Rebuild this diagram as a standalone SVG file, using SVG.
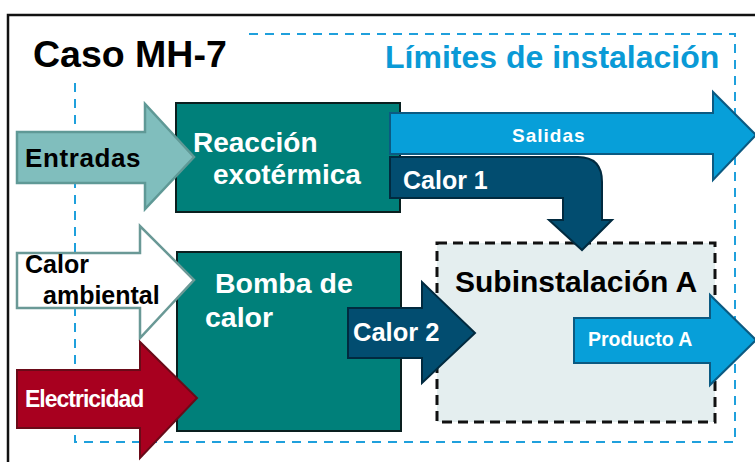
<svg xmlns="http://www.w3.org/2000/svg" width="755" height="462" viewBox="0 0 755 462">
<style>
text{font-family:"Liberation Sans",Arial,sans-serif;font-weight:bold}
.box{fill:#00807a;stroke:#0a1f1f;stroke-width:2}
.wt{fill:#ffffff}
.bk{fill:#000000}
.lb{fill:#079fd9;stroke:#0b5a82;stroke-width:2;stroke-linejoin:miter}
.db{fill:#024d70;stroke:#012a3f;stroke-width:2}
.lim{fill:none;stroke:#1fa0dc;stroke-width:2;stroke-dasharray:9 7}
</style>
<rect width="755" height="462" fill="#ffffff"/>
<g id="frame">
<path d="M8 462 V15 H755" fill="none" stroke="#111" stroke-width="2.5"/>
</g>
<g id="limites">
<path class="lim" d="M75 83 V442 H735 V34 H245"/>
<text x="385" y="68" font-size="32" style="fill:#0a9ad6">Límites de instalación</text>
</g>
<g id="title">
<text class="bk" x="33" y="67" font-size="37.5">Caso MH-7</text>
</g>
<g id="subinstalacion">
<rect x="437" y="243" width="278" height="179" fill="#e4eeef" stroke="#111" stroke-width="3" stroke-dasharray="10 6"/>
<text class="bk" x="455" y="292" font-size="30">Subinstalación A</text>
</g>
<g id="reaccion">
<rect class="box" x="176" y="103" width="224" height="109"/>
<text class="wt" x="193" y="152" font-size="28">Reacción</text>
<text class="wt" x="213" y="184" font-size="28">exotérmica</text>
</g>
<g id="bomba">
<rect class="box" x="177" y="252" width="224" height="179"/>
<text class="wt" x="215" y="293" font-size="28.5">Bomba de</text>
<text class="wt" x="205" y="327" font-size="28.5">calor</text>
</g>
<g id="connectors">
<g id="entradas">
<path d="M17 132 H145 V104 L194 157 L145 209 V183 H17 Z" fill="#80bebd" stroke="#5f9996" stroke-width="2.5"/>
<text class="bk" x="25" y="167" font-size="26" letter-spacing="0.6">Entradas</text>
</g>
<g id="calor-ambiental">
<path d="M17 253 H140 V226 L194 280 L140 338 V308 H17 Z" fill="#ffffff" stroke="#6a9996" stroke-width="2.5"/>
<text class="bk" x="25" y="273" font-size="25">Calor</text>
<text class="bk" x="43" y="304" font-size="25">ambiental</text>
</g>
<g id="electricidad">
<path d="M17 370 H140 V342 L197 398 L140 458 V428 H17 Z" fill="#a8001f" stroke="#6a0a18" stroke-width="2"/>
<text class="wt" x="25" y="407" font-size="23" letter-spacing="-1">Electricidad</text>
</g>
<g id="salidas">
<path class="lb" d="M390 113 H713 V92 L756 135 L713 180 V154 H390 Z"/>
<text class="wt" x="512" y="142" font-size="19" letter-spacing="1">Salidas</text>
</g>
<g id="calor1">
<path class="db" d="M390 157 H578 Q602 157 602 182 V220 H612 L582 250 L549 220 H563 V198 H390 Z"/>
<text class="wt" x="403" y="189" font-size="25">Calor 1</text>
</g>
<g id="calor2">
<path class="db" d="M348 308 H422 V282 L475 333 L422 383 V358 H348 Z"/>
<text class="wt" x="353" y="341" font-size="25.5">Calor 2</text>
</g>
<g id="productoA">
<path class="lb" d="M574 318 H710 V295 L756 340 L710 385 V363 H574 Z"/>
<text class="wt" x="588" y="346" font-size="19.5">Producto A</text>
</g>
</g>
</svg>
